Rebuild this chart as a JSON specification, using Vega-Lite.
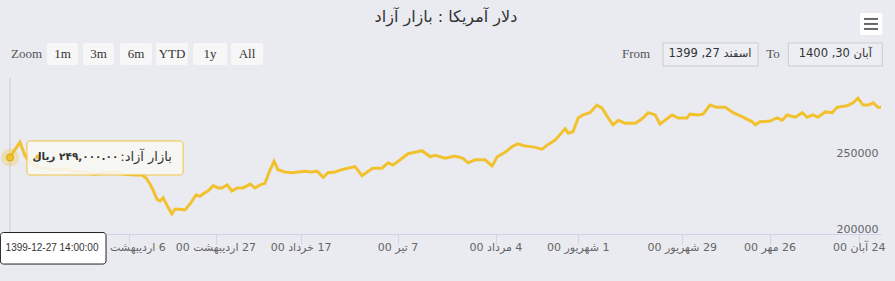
{
 "$schema": "https://vega.github.io/schema/vega-lite/v6.json",
 "width": 871, "height": 156,
 "autosize": {"type": "none"},
 "padding": {"left": 10, "top": 78, "right": 14, "bottom": 47},
 "background": "#e9ebf1",
 "config": {"view": {"stroke": null}},
 "datasets": {"usd": [
  {"t":0,"v":249000},{"t":1.1,"v":254000},{"t":2.3,"v":259000},{"t":3.4,"v":250500},{"t":4.6,"v":246000},{"t":5.7,"v":243500},{"t":8.0,"v":242000},{"t":10.3,"v":241000},{"t":12.6,"v":241500},{"t":14.9,"v":240000},{"t":17.2,"v":239500},{"t":19.5,"v":238000},{"t":21.8,"v":239000},{"t":24.1,"v":239500},{"t":26.4,"v":238000},{"t":28.7,"v":237500},{"t":30.3,"v":237500},{"t":31.3,"v":235500},{"t":32.2,"v":231500},{"t":32.9,"v":227500},{"t":33.8,"v":221500},{"t":34.5,"v":220500},{"t":35.2,"v":222500},{"t":36.1,"v":217500},{"t":37.2,"v":212000},{"t":37.9,"v":215000},{"t":39.1,"v":215000},{"t":40.2,"v":214500},{"t":41.4,"v":218500},{"t":42.8,"v":224500},{"t":43.7,"v":223500},{"t":44.6,"v":225500},{"t":45.5,"v":227000},{"t":46.7,"v":230500},{"t":47.8,"v":229000},{"t":48.7,"v":229000},{"t":49.9,"v":231000},{"t":51.0,"v":227000},{"t":52.2,"v":229000},{"t":53.6,"v":229000},{"t":55.2,"v":231500},{"t":56.3,"v":229000},{"t":57.5,"v":231000},{"t":58.6,"v":232000},{"t":59.8,"v":241000},{"t":60.7,"v":246500},{"t":61.6,"v":241000},{"t":63.2,"v":239500},{"t":64.8,"v":239000},{"t":66.2,"v":239500},{"t":67.8,"v":240000},{"t":69.4,"v":239500},{"t":70.6,"v":240000},{"t":72.0,"v":236000},{"t":73.1,"v":239000},{"t":74.7,"v":239500},{"t":76.3,"v":241000},{"t":77.7,"v":242000},{"t":79.3,"v":243000},{"t":80.9,"v":237000},{"t":82.1,"v":239500},{"t":83.4,"v":242000},{"t":85.5,"v":242000},{"t":86.9,"v":245500},{"t":88.0,"v":244000},{"t":89.7,"v":247500},{"t":91.5,"v":251500},{"t":93.1,"v":252500},{"t":94.7,"v":253500},{"t":96.6,"v":249500},{"t":97.7,"v":250500},{"t":100.0,"v":248500},{"t":102.3,"v":250000},{"t":104.1,"v":248500},{"t":105.3,"v":245500},{"t":106.9,"v":247500},{"t":109.2,"v":247500},{"t":110.8,"v":243500},{"t":112.0,"v":249500},{"t":113.8,"v":252500},{"t":115.6,"v":256500},{"t":116.8,"v":258000},{"t":118.4,"v":256500},{"t":120.2,"v":256000},{"t":122.3,"v":254500},{"t":123.4,"v":257000},{"t":125.3,"v":260500},{"t":126.4,"v":264000},{"t":127.6,"v":268000},{"t":128.3,"v":265000},{"t":129.4,"v":266000},{"t":130.6,"v":275000},{"t":131.7,"v":277000},{"t":133.3,"v":278500},{"t":134.9,"v":283500},{"t":136.1,"v":281500},{"t":137.5,"v":275000},{"t":138.6,"v":270500},{"t":139.8,"v":273500},{"t":141.4,"v":271500},{"t":142.5,"v":271500},{"t":143.7,"v":271500},{"t":145.3,"v":274500},{"t":146.7,"v":278500},{"t":148.3,"v":277000},{"t":149.4,"v":271000},{"t":151.0,"v":274500},{"t":152.2,"v":277000},{"t":153.6,"v":275000},{"t":155.6,"v":275000},{"t":156.3,"v":277500},{"t":158.2,"v":277000},{"t":159.3,"v":277500},{"t":160.9,"v":283500},{"t":162.5,"v":282000},{"t":164.4,"v":282000},{"t":166.2,"v":278500},{"t":168.5,"v":275500},{"t":170.6,"v":272500},{"t":171.3,"v":270500},{"t":172.4,"v":272500},{"t":174.7,"v":273000},{"t":176.3,"v":275000},{"t":177.5,"v":273500},{"t":178.6,"v":277000},{"t":180.5,"v":275500},{"t":182.1,"v":278500},{"t":183.2,"v":275500},{"t":184.6,"v":277000},{"t":185.7,"v":275500},{"t":187.4,"v":279000},{"t":189.0,"v":278500},{"t":190.1,"v":282000},{"t":192.4,"v":283000},{"t":193.8,"v":285000},{"t":194.9,"v":288000},{"t":196.1,"v":283500},{"t":197.2,"v":283500},{"t":198.4,"v":285000},{"t":199.5,"v":282000},{"t":200.2,"v":282000}
 ],
 "ticks": [
  {"t": 27.4, "label": "\u200f6 اردیبهشت 00"},
  {"t": 47.3, "label": "\u200f27 اردیبهشت 00"},
  {"t": 66.9, "label": "\u200f17 خرداد 00"},
  {"t": 89.2, "label": "\u200f7 تیر 00"},
  {"t": 111.7, "label": "\u200f4 مرداد 00"},
  {"t": 130.6, "label": "\u200f1 شهریور 00"},
  {"t": 154.5, "label": "\u200f29 شهریور 00"},
  {"t": 174.7, "label": "\u200f26 مهر 00"},
  {"t": 195.2, "label": "\u200f24 آبان 00"}
 ]},
 "data": {"values": [{}]},
 "layer": [
  {"data": {"name": "usd"},
   "mark": {"type": "line", "color": "#f2c12e", "strokeWidth": 3},
   "encoding": {
    "x": {"field": "t", "type": "quantitative", "scale": {"domain": [0, 200.2], "nice": false, "zero": false},
      "axis": {"title": null, "values": [27.4, 47.3, 66.9, 89.2, 111.7, 130.6, 154.5, 174.7, 195.2], "labels": false,
        "grid": false, "domainColor": "#ccd6eb", "tickColor": "#ccd6eb", "tickSize": 10}},
    "y": {"field": "v", "type": "quantitative", "scale": {"domain": [198700, 301300], "nice": false, "zero": false},
      "axis": {"title": null, "orient": "right", "values": [200000, 250000], "format": "d", "grid": false, "domain": false, "ticks": false, "tickSize": 0,
        "labelAlign": "right", "labelPadding": -3, "labelBaseline": "alphabetic", "labelFont": "DejaVu Sans", "labelFontSize": 11, "labelColor": "#666666"}}
   }},
  {"data": {"name": "ticks"},
   "mark": {"type": "text", "font": "DejaVu Sans", "fontSize": 11, "color": "#666666", "align": "center", "baseline": "middle", "clip": false},
   "encoding": {"x": {"field": "t", "type": "quantitative"}, "y": {"datum": 189474}, "text": {"field": "label"}}},
  {"mark": {"type": "rule", "color": "#cccccc", "strokeWidth": 1}, "encoding": {"x": {"datum": 0}}},
  {"mark": {"type": "point", "filled": true, "color": "#f2c12e", "opacity": 0.3, "size": 320}, "encoding": {"x": {"datum": 0}, "y": {"datum": 249000}}},
  {"mark": {"type": "point", "filled": true, "color": "#f2c12e", "opacity": 1, "size": 50, "stroke": "#e0a800", "strokeWidth": 1}, "encoding": {"x": {"datum": 0}, "y": {"datum": 249000}}},
  {"mark": {"type": "rect", "fill": "#f8f8f4", "opacity": 0.9, "stroke": "#f2c12e", "strokeWidth": 1, "cornerRadius": 3, "clip": false},
   "encoding": {"x": {"datum": 3.9}, "x2": {"datum": 39.8}, "y": {"datum": 259870}, "y2": {"datum": 237500}}},
  {"mark": {"type": "point", "filled": true, "color": "#f2c12e", "opacity": 1, "size": 25}, "encoding": {"x": {"datum": 6.4}, "y": {"datum": 249342}}},
  {"mark": {"type": "text", "font": "DejaVu Sans", "fontSize": 10.5, "fontWeight": "bold", "color": "#333333", "align": "right", "baseline": "middle"},
   "encoding": {"x": {"datum": 24.9}, "y": {"datum": 249342}, "text": {"value": "\u200f۲۴۹,۰۰۰.۰۰ ریال\u200f"}}},
  {"mark": {"type": "text", "font": "DejaVu Sans", "fontSize": 13, "color": "#333333", "align": "right", "baseline": "middle"},
   "encoding": {"x": {"datum": 37.2}, "y": {"datum": 249342}, "text": {"value": "\u200fبازار آزاد:\u200f"}}},
  {"mark": {"type": "rect", "fill": "#ffffff", "stroke": "#222222", "strokeWidth": 1, "cornerRadius": 3, "clip": false},
   "encoding": {"x": {"datum": -2.2}, "x2": {"datum": 22.07}, "y": {"datum": 199671}, "y2": {"datum": 178947}}},
  {"mark": {"type": "text", "font": "Liberation Sans", "fontSize": 10, "color": "#333333", "align": "center", "baseline": "middle", "clip": false},
   "encoding": {"x": {"datum": 9.66}, "y": {"datum": 189474}, "text": {"value": "1399-12-27 14:00:00"}}},
  {"mark": {"type": "text", "font": "DejaVu Sans", "fontSize": 16, "color": "#333333", "align": "center", "baseline": "middle", "clip": false},
   "encoding": {"x": {"datum": 100.2}, "y": {"datum": 341450}, "text": {"value": "دلار آمریکا : بازار آزاد"}}},
  {"mark": {"type": "text", "font": "Liberation Serif", "fontSize": 13, "color": "#555555", "align": "center", "baseline": "middle", "clip": false},
   "encoding": {"x": {"datum": 3.8}, "y": {"datum": 317100}, "text": {"value": "Zoom"}}},
  {"mark": {"type": "rect", "fill": "#f7f7f7", "cornerRadius": 2, "clip": false}, "encoding": {"x": {"datum": 8.5}, "x2": {"datum": 15.6}, "y": {"datum": 324300}, "y2": {"datum": 309900}}},
  {"mark": {"type": "rect", "fill": "#f7f7f7", "cornerRadius": 2, "clip": false}, "encoding": {"x": {"datum": 16.8}, "x2": {"datum": 23.9}, "y": {"datum": 324300}, "y2": {"datum": 309900}}},
  {"mark": {"type": "rect", "fill": "#f7f7f7", "cornerRadius": 2, "clip": false}, "encoding": {"x": {"datum": 25.3}, "x2": {"datum": 32.6}, "y": {"datum": 324300}, "y2": {"datum": 309900}}},
  {"mark": {"type": "rect", "fill": "#f7f7f7", "cornerRadius": 2, "clip": false}, "encoding": {"x": {"datum": 33.6}, "x2": {"datum": 40.9}, "y": {"datum": 324300}, "y2": {"datum": 309900}}},
  {"mark": {"type": "rect", "fill": "#f7f7f7", "cornerRadius": 2, "clip": false}, "encoding": {"x": {"datum": 42.1}, "x2": {"datum": 49.9}, "y": {"datum": 324300}, "y2": {"datum": 309900}}},
  {"mark": {"type": "rect", "fill": "#f7f7f7", "cornerRadius": 2, "clip": false}, "encoding": {"x": {"datum": 50.8}, "x2": {"datum": 58.2}, "y": {"datum": 324300}, "y2": {"datum": 309900}}},
  {"mark": {"type": "text", "font": "Liberation Serif", "fontSize": 13, "color": "#333333", "align": "center", "baseline": "middle", "clip": false}, "encoding": {"x": {"datum": 12.07}, "y": {"datum": 317100}, "text": {"value": "1m"}}},
  {"mark": {"type": "text", "font": "Liberation Serif", "fontSize": 13, "color": "#333333", "align": "center", "baseline": "middle", "clip": false}, "encoding": {"x": {"datum": 20.34}, "y": {"datum": 317100}, "text": {"value": "3m"}}},
  {"mark": {"type": "text", "font": "Liberation Serif", "fontSize": 13, "color": "#333333", "align": "center", "baseline": "middle", "clip": false}, "encoding": {"x": {"datum": 28.97}, "y": {"datum": 317100}, "text": {"value": "6m"}}},
  {"mark": {"type": "text", "font": "Liberation Serif", "fontSize": 13, "color": "#333333", "align": "center", "baseline": "middle", "clip": false}, "encoding": {"x": {"datum": 37.24}, "y": {"datum": 317100}, "text": {"value": "YTD"}}},
  {"mark": {"type": "text", "font": "Liberation Serif", "fontSize": 13, "color": "#333333", "align": "center", "baseline": "middle", "clip": false}, "encoding": {"x": {"datum": 45.98}, "y": {"datum": 317100}, "text": {"value": "1y"}}},
  {"mark": {"type": "text", "font": "Liberation Serif", "fontSize": 13, "color": "#333333", "align": "center", "baseline": "middle", "clip": false}, "encoding": {"x": {"datum": 54.48}, "y": {"datum": 317100}, "text": {"value": "All"}}},
  {"mark": {"type": "text", "font": "Liberation Serif", "fontSize": 13, "color": "#555555", "align": "center", "baseline": "middle", "clip": false}, "encoding": {"x": {"datum": 143.9}, "y": {"datum": 317100}, "text": {"value": "From"}}},
  {"mark": {"type": "text", "font": "Liberation Serif", "fontSize": 13, "color": "#555555", "align": "center", "baseline": "middle", "clip": false}, "encoding": {"x": {"datum": 175.4}, "y": {"datum": 317100}, "text": {"value": "To"}}},
  {"mark": {"type": "rect", "fill": "#eceef3", "stroke": "#cccccc", "strokeWidth": 1, "clip": false}, "encoding": {"x": {"datum": 150.1}, "x2": {"datum": 171.95}, "y": {"datum": 324343}, "y2": {"datum": 309211}}},
  {"mark": {"type": "rect", "fill": "#eceef3", "stroke": "#cccccc", "strokeWidth": 1, "clip": false}, "encoding": {"x": {"datum": 178.9}, "x2": {"datum": 200.5}, "y": {"datum": 324343}, "y2": {"datum": 309211}}},
  {"mark": {"type": "text", "font": "DejaVu Sans", "fontSize": 11.5, "color": "#333333", "align": "center", "baseline": "middle", "clip": false}, "encoding": {"x": {"datum": 160.9}, "y": {"datum": 317100}, "text": {"value": "\u200fاسفند 27, 1399\u200f"}}},
  {"mark": {"type": "text", "font": "DejaVu Sans", "fontSize": 11.5, "color": "#333333", "align": "center", "baseline": "middle", "clip": false}, "encoding": {"x": {"datum": 189.7}, "y": {"datum": 317100}, "text": {"value": "\u200fآبان 30, 1400\u200f"}}},
  {"mark": {"type": "rect", "fill": "#ffffff", "cornerRadius": 2, "clip": false}, "encoding": {"x": {"datum": 195.4}, "x2": {"datum": 200.5}, "y": {"datum": 344080}, "y2": {"datum": 329606}}},
  {"mark": {"type": "rule", "color": "#666666", "strokeWidth": 2, "clip": false}, "encoding": {"x": {"datum": 196.3}, "x2": {"datum": 199.5}, "y": {"datum": 340133}}},
  {"mark": {"type": "rule", "color": "#666666", "strokeWidth": 2, "clip": false}, "encoding": {"x": {"datum": 196.3}, "x2": {"datum": 199.5}, "y": {"datum": 336843}}},
  {"mark": {"type": "rule", "color": "#666666", "strokeWidth": 2, "clip": false}, "encoding": {"x": {"datum": 196.3}, "x2": {"datum": 199.5}, "y": {"datum": 333554}}}
 ]
}
